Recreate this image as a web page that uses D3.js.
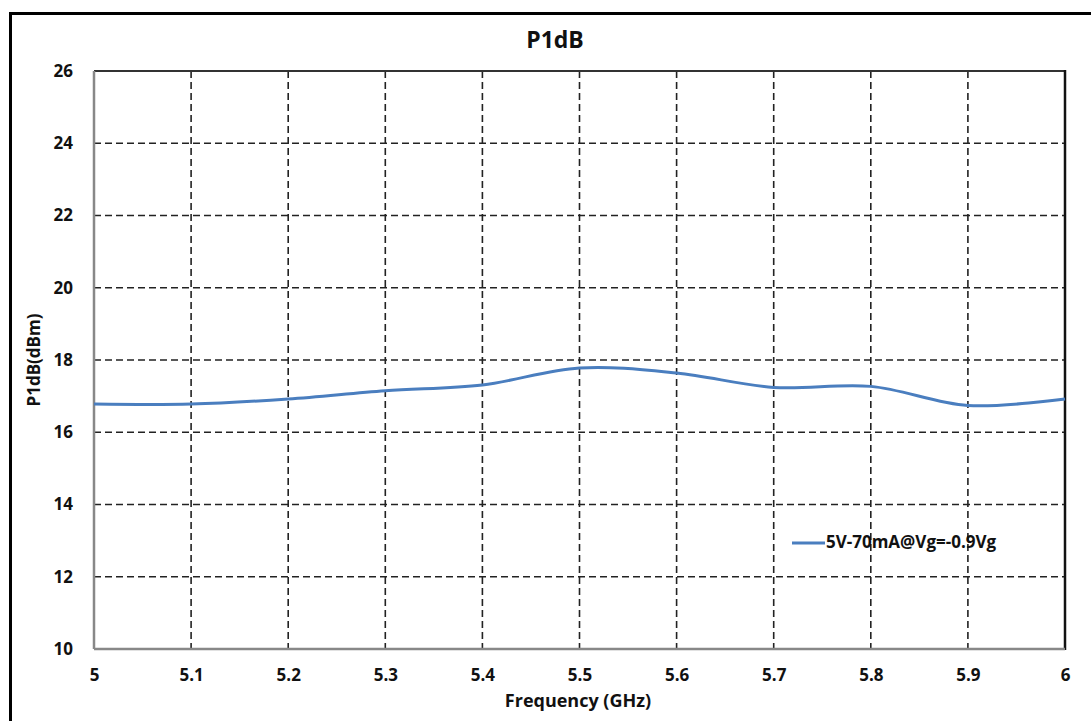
<!DOCTYPE html>
<html><head><meta charset="utf-8">
<script src="https://cdn.jsdelivr.net/npm/d3@7"></script>
<style>
html,body{margin:0;padding:0;background:#fff;}
text{font-family:"Open Sans","Noto Sans",sans-serif;font-weight:bold;fill:#111;}
</style></head>
<body><svg id="c" width="1091" height="721"></svg>
<script>
const freqs = [5.0, 5.1, 5.2, 5.3, 5.4, 5.5, 5.6, 5.7, 5.8, 5.9, 6.0];
const p1db = [16.78, 16.78, 16.92, 17.15, 17.31, 17.78, 17.64, 17.24, 17.27, 16.74, 16.92];
const seriesName = "5V-70mA@Vg=-0.9Vg";
const xTicks = [5, 5.1, 5.2, 5.3, 5.4, 5.5, 5.6, 5.7, 5.8, 5.9, 6];
const yTicks = [10, 12, 14, 16, 18, 20, 22, 24, 26];

const svg = d3.select("#c");
const L = 94, R = 1065, T = 71, B = 649;
const x = d3.scaleLinear().domain([5, 6]).range([L, R]);
const y = d3.scaleLinear().domain([10, 26]).range([B, T]);

// outer frame
svg.append("rect").attr("x", 10.5).attr("y", 13.5).attr("width", 1200).attr("height", 800)
  .attr("fill", "none").attr("stroke", "#000").attr("stroke-width", 3);

// grid
const g = svg.append("g");
g.selectAll(".hg").data(yTicks.slice(1, -1)).join("line")
  .attr("x1", L).attr("x2", R).attr("y1", d => y(d)).attr("y2", d => y(d))
  .attr("stroke", "#222").attr("stroke-width", 1.6).attr("stroke-dasharray", "7,4");
g.selectAll(".vg").data(xTicks.slice(1, -1)).join("line")
  .attr("y1", T).attr("y2", B).attr("x1", d => x(d)).attr("x2", d => x(d))
  .attr("stroke", "#222").attr("stroke-width", 1.6).attr("stroke-dasharray", "7,4");

// plot border
svg.append("line").attr("x1", L).attr("x2", R).attr("y1", T).attr("y2", T).attr("stroke", "#333").attr("stroke-width", 2);
svg.append("line").attr("x1", R).attr("x2", R).attr("y1", T - 1).attr("y2", B + 1).attr("stroke", "#111").attr("stroke-width", 2.5);
svg.append("line").attr("x1", L).attr("x2", L).attr("y1", T).attr("y2", B).attr("stroke", "#888").attr("stroke-width", 2.5);
svg.append("line").attr("x1", L).attr("x2", R).attr("y1", B).attr("y2", B).attr("stroke", "#888").attr("stroke-width", 2.5);

// axes (labels only)
const xa = svg.append("g").attr("transform", `translate(0,${B})`)
  .call(d3.axisBottom(x).tickValues(xTicks).tickSize(0).tickPadding(20).tickFormat(d3.format("")));
xa.select(".domain").remove();
xa.selectAll("text").style("font-size", "17px").attr("dy", "0.71em");
const ya = svg.append("g").attr("transform", `translate(${L},0)`)
  .call(d3.axisLeft(y).tickValues(yTicks).tickSize(0).tickPadding(21));
ya.select(".domain").remove();
ya.selectAll("text").style("font-size", "17px");

// line
svg.append("path").datum(freqs.map((f, i) => [f, p1db[i]]))
  .attr("d", d3.line().x(d => x(d[0])).y(d => y(d[1])).curve(d3.curveCatmullRom.alpha(0.5)))
  .attr("fill", "none").attr("stroke", "#4a7ebf").attr("stroke-width", 3);

// title & axis titles
svg.append("text").attr("x", 555).attr("y", 48).attr("text-anchor", "middle").style("font-size", "23px").text("P1dB");
svg.append("text").attr("x", 578).attr("y", 707).attr("text-anchor", "middle").style("font-size", "18px").text("Frequency (GHz)");
svg.append("text").attr("transform", "translate(40,360) rotate(-90)").attr("text-anchor", "middle").style("font-size", "17px").text("P1dB(dBm)");

// legend
svg.append("line").attr("x1", 792).attr("x2", 825).attr("y1", 543).attr("y2", 543)
  .attr("stroke", "#4a7ebf").attr("stroke-width", 3);
svg.append("text").attr("x", 826).attr("y", 548).style("font-size", "17px").text(seriesName);
</script></body></html>
